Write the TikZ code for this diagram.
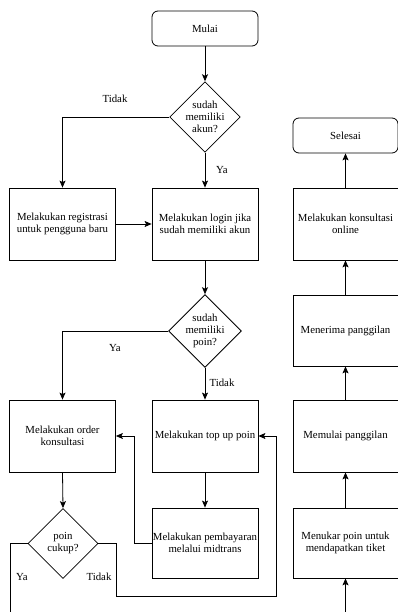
\documentclass[tikz,border=0pt]{standalone}
\usepackage{fontspec}
\setmainfont{Liberation Serif}
\usetikzlibrary{shapes.geometric,arrows.meta}
\begin{document}
\begin{tikzpicture}[x=1pt,y=-1pt,
  every node/.style={font=\fontsize{10.8}{12}\selectfont, align=center, inner sep=0pt},
  box/.style={draw, line width=0.8pt, minimum width=106pt, minimum height=72pt},
  term/.style={draw, line width=0.8pt, rounded corners=6pt, minimum width=106pt, minimum height=35pt},
  dia/.style={draw, diamond, line width=0.8pt, minimum width=70pt, minimum height=70pt, inner sep=0pt},
  lbl/.style={font=\fontsize{10.8}{12}\selectfont},
  line/.style={draw, line width=0.8pt},
  arr/.style={line, -{Stealth[length=7pt,width=6pt,inset=1.5pt]}}
]
\useasboundingbox (0,0) rectangle (398,612);
% left/middle column
\node[term] (mulai) at (205,28.5) {Mulai};
\node[dia] (d1) at (205,117) {sudah\\memiliki\\akun?};
\node[box] (reg) at (62.5,224) {Melakukan registrasi\\untuk pengguna baru};
\node[box] (login) at (205,224) {Melakukan login jika\\sudah memiliki akun};
\node[dia] (d2) at (205,331) {sudah\\memiliki\\poin?};
\node[box] (order) at (62.5,436) {Melakukan order\\konsultasi};
\node[box] (topup) at (205,436) {Melakukan top up poin};
\node[box, minimum height=70pt] (bayar) at (205,543) {Melakukan pembayaran\\melalui midtrans};
\node[dia] (d3) at (63,543.5) {poin\\cukup?};
% right column
\node[term, minimum width=105pt] (selesai) at (345.5,135.5) {Selesai};
\node[box, minimum width=105pt] (konsul) at (345.5,224) {Melakukan konsultasi\\online};
\node[box, minimum width=105pt, minimum height=71pt] (terima) at (345.5,330.5) {Menerima panggilan};
\node[box, minimum width=105pt] (mulaip) at (345.5,436) {Memulai panggilan};
\node[box, minimum width=105pt, minimum height=70pt] (tukar) at (345.5,543) {Menukar poin untuk\\mendapatkan tiket};
% labels
\node[lbl] (l1) at (115,99) {Tidak};
\node[lbl] (l2) at (222,170) {Ya};
\node[lbl] (l3) at (115,348) {Ya};
\node[lbl] (l4) at (222,383) {Tidak};
\node[lbl] (l5) at (22,577) {Ya};
\node[lbl] (l6) at (99,577) {Tidak};
% coordinates
\coordinate (c1) at (10,612);
\coordinate (c2) at (116,596);
\coordinate (c3) at (276,436);
\coordinate (c4) at (134,543);
\coordinate (c5) at (345.5,612);
% connectors
\draw[arr] (mulai.south) -- (d1.north);
\draw[arr] (d1.west) -| (reg.north);
\draw[arr] (d1.south) -- (login.north);
\draw[arr] (reg.east) -- (login.west);
\draw[arr] (login.south) -- (d2.north);
\draw[arr] (d2.west) -| (order.north);
\draw[arr] (d2.south) -- (topup.north);
\draw[arr] (topup.south) -- (bayar.north);
\draw[arr] (order.south) -- (d3.north);
\draw[line] (d3.west) -| (c1);
\draw[arr] (d3.east) -| (c2) -| (c3) -- (topup.east);
\draw[arr] (bayar.west) -- (c4) |- (order.east);
\draw[arr] (c5) -- (tukar.south);
\draw[arr] (tukar.north) -- (mulaip.south);
\draw[arr] (mulaip.north) -- (terima.south);
\draw[arr] (terima.north) -- (konsul.south);
\draw[arr] (konsul.north) -- (selesai.south);
\end{tikzpicture}
\end{document}
